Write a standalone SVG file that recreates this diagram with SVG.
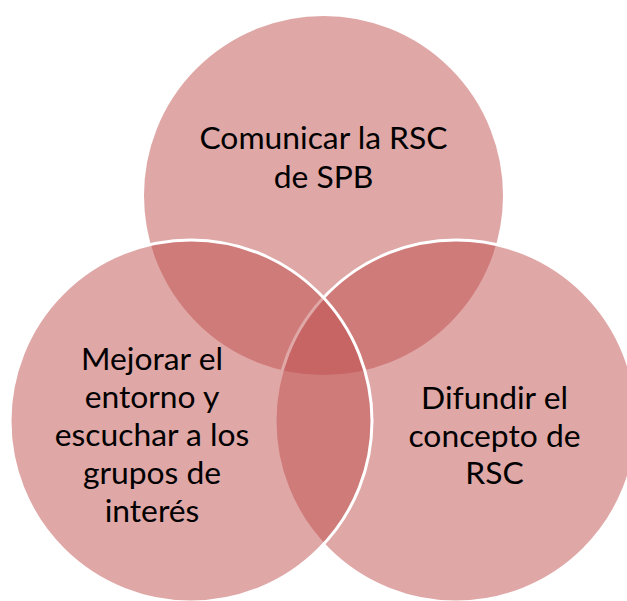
<svg xmlns="http://www.w3.org/2000/svg" width="627" height="601" viewBox="0 0 627 601">
<style>
.c{fill:#C0504D;fill-opacity:0.5;stroke:#FFFFFF;stroke-width:3}
.t{font-family:Lato,"Liberation Sans",sans-serif;font-size:31.8px;fill:#000000;text-anchor:middle}
</style>
<rect width="627" height="601" fill="#FFFFFF"/>
<g id="node-top">
<circle class="c" cx="323.5" cy="195.5" r="181"/>
<text class="t"><tspan x="323.5" y="149">Comunicar la RSC</tspan><tspan x="323.5" y="187.5">de SPB</tspan></text>
</g>
<g id="node-right">
<circle class="c" cx="456" cy="421" r="181"/>
<text class="t"><tspan x="494.5" y="409">Difundir el</tspan><tspan x="494.5" y="446.5">concepto de</tspan><tspan x="494.5" y="484">RSC</tspan></text>
</g>
<g id="node-left">
<circle class="c" cx="191" cy="421" r="181"/>
<text class="t"><tspan x="152" y="370">Mejorar el</tspan><tspan x="152" y="408">entorno y</tspan><tspan x="152" y="446">escuchar a los</tspan><tspan x="152" y="484">grupos de</tspan><tspan x="152" y="522">interés</tspan></text>
</g>
<g id="connectors"/>
</svg>
